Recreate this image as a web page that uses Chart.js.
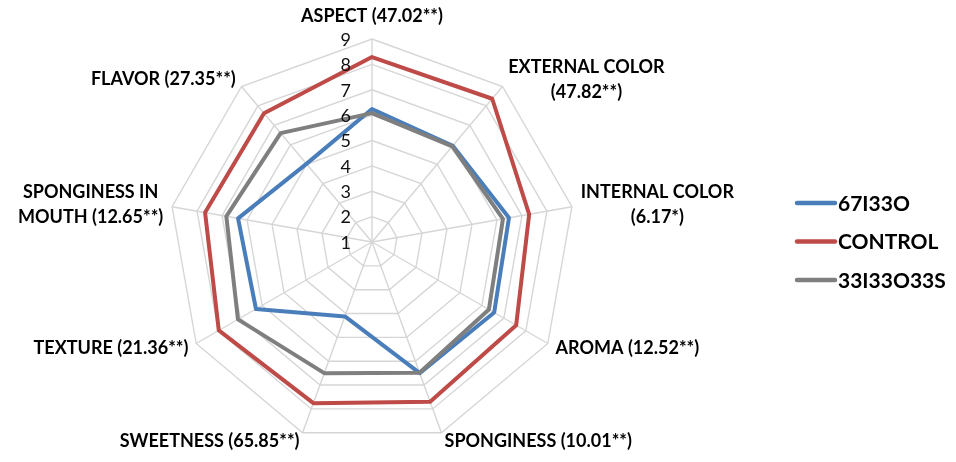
<!DOCTYPE html>
<html>
<head>
<meta charset="utf-8">
<script src="https://cdn.jsdelivr.net/npm/chart.js@4"></script>
<style>
  html, body { margin: 0; padding: 0; background: #ffffff; }
  #wrap { width: 956px; height: 462px; }
</style>
</head>
<body>
<div id="wrap"><canvas id="radar" width="956" height="462"></canvas></div>
<script>
// Sensory attributes (F value and significance in brackets)
const attributes = [
  ['ASPECT (47.02**)'],
  ['EXTERNAL COLOR', '(47.82**)'],
  ['INTERNAL COLOR', '(6.17*)'],
  ['AROMA (12.52**)'],
  ['SPONGINESS (10.01**)'],
  ['SWEETNESS (65.85**)'],
  ['TEXTURE (21.36**)'],
  ['SPONGINESS IN', 'MOUTH (12.65**)'],
  ['FLAVOR (27.35**)']
];

const seriesNames = ['67I33O', 'CONTROL', '33I33O33S'];
const scores67I33O    = [6.24, 5.95, 6.48, 6.56, 6.50, 4.12, 6.28, 6.36, 5.02];
const scoresControl   = [8.29, 8.37, 7.29, 7.56, 7.70, 7.76, 7.97, 7.68, 7.62];
const scores33I33O33S = [6.08, 5.92, 6.24, 6.32, 6.48, 6.50, 7.10, 6.83, 6.60];

const scaleMin = 1;
const scaleMax = 9;
const scaleStep = 1;

const FONT = 'Lato, "Open Sans", "DejaVu Sans", sans-serif';

// Value labels 1..9 placed left of the vertical axis, one per ring
const tickLabelsPlugin = {
  id: 'tickLabels',
  afterDatasetsDraw(chart) {
    const r = chart.scales.r;
    const ctx = chart.ctx;
    ctx.save();
    ctx.font = '18px ' + FONT;
    ctx.fillStyle = '#111111';
    ctx.textAlign = 'right';
    ctx.textBaseline = 'middle';
    r.ticks.forEach(t => {
      const d = r.getDistanceFromCenterForValue(t.value);
      ctx.fillText(String(t.value), r.xCenter - 21, r.yCenter - d + 1);
    });
    ctx.restore();
  }
};

// Attribute names around the outer ring
const pointLabelsPlugin = {
  id: 'attrLabels',
  afterDraw(chart) {
    const r = chart.scales.r;
    const ctx = chart.ctx;
    const lineH = 25;
    ctx.save();
    ctx.font = 'bold 18px ' + FONT;
    ctx.fillStyle = '#000000';
    chart.data.labels.forEach((lines, i) => {
      const top = Math.abs(Math.cos(r.getIndexAngle(i))) > 0.99;
      const p = r.getPointPosition(i, r.drawingArea + (top ? 14 : 9));
      const sx = Math.sin(r.getIndexAngle(i));
      const bw = Math.max(...lines.map(l => ctx.measureText(l).width));
      let cx;
      if (Math.abs(sx) < 0.05) cx = p.x;
      else if (sx > 0) cx = p.x + bw / 2;
      else cx = p.x - bw / 2;
      ctx.textAlign = 'center';
      if (top) {
        ctx.textBaseline = 'bottom';
        ctx.fillText(lines[0], cx, p.y);
      } else {
        ctx.textBaseline = 'middle';
        const y0 = p.y - (lines.length - 1) * lineH / 2;
        lines.forEach((l, k) => ctx.fillText(l, cx, y0 + k * lineH));
      }
    });
    ctx.restore();
  }
};

// Series key on the right
const keyPlugin = {
  id: 'seriesKey',
  afterDraw(chart) {
    const ctx = chart.ctx;
    const x0 = 797, x1 = 835, yStart = 203, gap = 38.5;
    ctx.save();
    chart.data.datasets.forEach((ds, i) => {
      const y = yStart + i * gap;
      ctx.strokeStyle = ds.borderColor;
      ctx.lineWidth = 4.5;
      ctx.lineCap = 'round';
      ctx.beginPath();
      ctx.moveTo(x0, y);
      ctx.lineTo(x1, y);
      ctx.stroke();
      ctx.font = 'bold 21px ' + FONT;
      ctx.fillStyle = '#000000';
      ctx.textAlign = 'left';
      ctx.textBaseline = 'middle';
      ctx.fillText(ds.label, x1 + 3, y + 1);
    });
    ctx.restore();
  }
};

new Chart(document.getElementById('radar'), {
  type: 'radar',
  data: {
    labels: attributes,
    datasets: [
      { label: seriesNames[0], data: scores67I33O, borderColor: '#4a7ebb', order: 2 },
      { label: seriesNames[1], data: scoresControl, borderColor: '#be4b48', order: 1 },
      { label: seriesNames[2], data: scores33I33O33S, borderColor: '#7f7f7f', order: 0 }
    ]
  },
  options: {
    responsive: false,
    devicePixelRatio: 1,
    animation: false,
    layout: { padding: { left: 169, top: 39, right: 381, bottom: 17 } },
    elements: {
      line: { borderWidth: 4, fill: false, tension: 0, borderJoinStyle: 'round' },
      point: { radius: 0, hoverRadius: 0 }
    },
    plugins: { legend: { display: false }, tooltip: { enabled: false } },
    scales: {
      r: {
        min: scaleMin,
        max: scaleMax,
        ticks: { stepSize: scaleStep, display: false },
        pointLabels: { display: false },
        grid: { color: '#d6d6d6', lineWidth: 1.4 },
        angleLines: { color: '#d6d6d6', lineWidth: 1.4 }
      }
    }
  },
  plugins: [tickLabelsPlugin, pointLabelsPlugin, keyPlugin]
});
</script>
</body>
</html>
